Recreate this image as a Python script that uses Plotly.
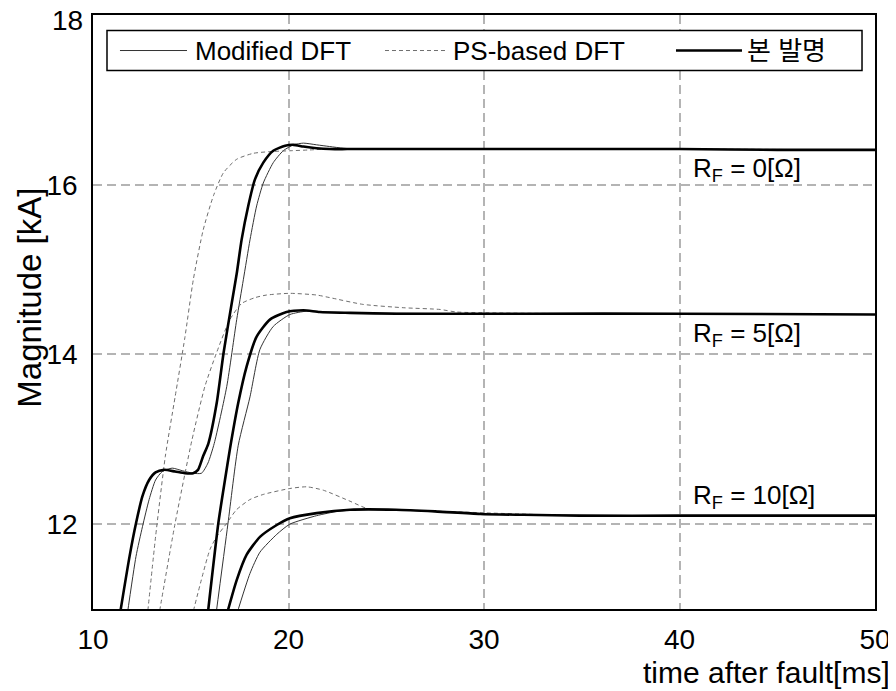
import plotly.graph_objects as go

# time after fault [ms] / magnitude [kA]
# R_F = 0 ohm
t_mod_0 = [11.73, 12.2, 12.53, 12.87, 13.2, 13.54, 14.05, 14.56, 15.12, 15.55, 15.88, 16.2, 16.84, 17.35, 17.69, 18.03, 18.37, 18.71, 19.22, 19.73, 20.26, 20.76, 21.44, 22.1, 22.8, 23.5, 30.0, 40.0, 50.0]
v_mod_0 = [10.9, 11.62, 11.97, 12.29, 12.52, 12.62, 12.66, 12.63, 12.60, 12.60, 12.72, 12.95, 13.62, 14.41, 14.88, 15.35, 15.75, 16.02, 16.26, 16.40, 16.47, 16.49, 16.47, 16.45, 16.43, 16.42, 16.42, 16.42, 16.41]
t_ps_0 = [12.77, 13.2, 13.7, 14.2, 14.7, 15.13, 15.64, 16.16, 16.67, 17.35, 18.2, 19.05, 20.07, 21.1, 22.0, 30.0, 40.0, 50.0]
v_ps_0 = [10.9, 11.85, 12.8, 13.5, 14.2, 14.88, 15.47, 15.87, 16.14, 16.30, 16.37, 16.39, 16.40, 16.41, 16.42, 16.42, 16.42, 16.41]
t_new_0 = [11.35, 11.87, 12.2, 12.53, 12.87, 13.2, 13.63, 14.2, 14.7, 15.12, 15.37, 15.63, 15.9, 16.33, 16.68, 17.1, 17.35, 17.6, 17.94, 18.28, 18.71, 19.22, 19.83, 20.26, 20.76, 21.44, 22.1, 23.0, 25.0, 30.0, 35.0, 40.0, 45.0, 50.0]
v_new_0 = [10.9, 11.62, 12.01, 12.33, 12.52, 12.61, 12.64, 12.62, 12.60, 12.60, 12.64, 12.80, 12.95, 13.43, 14.02, 14.61, 14.95, 15.35, 15.75, 16.06, 16.26, 16.40, 16.46, 16.47, 16.45, 16.43, 16.42, 16.42, 16.42, 16.42, 16.42, 16.42, 16.41, 16.41]

# R_F = 5 ohm
t_mod_5 = [16.27, 16.9, 17.43, 18.03, 18.54, 19.22, 20.07, 20.93, 22.0, 23.5, 30.0, 40.0, 50.0]
v_mod_5 = [10.9, 12.0, 12.93, 13.50, 14.06, 14.33, 14.47, 14.51, 14.50, 14.49, 14.48, 14.48, 14.47]
t_ps_5 = [13.35, 14.2, 15.06, 15.72, 16.32, 17.0, 17.6, 18.3, 18.88, 20.07, 21.44, 22.1, 23.8, 25.9, 27.75, 28.6, 35.0, 50.0]
v_ps_5 = [10.9, 12.01, 12.99, 13.62, 14.02, 14.41, 14.60, 14.67, 14.70, 14.72, 14.70, 14.67, 14.59, 14.55, 14.53, 14.50, 14.48, 14.47]
t_new_5 = [15.85, 16.41, 16.75, 17.0, 17.43, 17.86, 18.37, 19.05, 19.9, 20.76, 21.6, 23.15, 25.5, 28.0, 32.0, 40.0, 50.0]
v_new_5 = [10.9, 12.01, 12.52, 12.88, 13.43, 13.86, 14.21, 14.41, 14.50, 14.52, 14.50, 14.49, 14.48, 14.48, 14.48, 14.48, 14.47]

# R_F = 10 ohm
t_mod_10 = [17.3, 18.03, 18.54, 19.4, 20.07, 21.44, 22.5, 23.5, 25.5, 29.8, 34.9, 50.0]
v_mod_10 = [10.9, 11.42, 11.67, 11.88, 12.0, 12.10, 12.15, 12.17, 12.17, 12.12, 12.10, 12.10]
t_ps_10 = [15.05, 15.98, 16.32, 16.84, 17.34, 18.03, 18.71, 20.07, 20.93, 21.78, 23.15, 24.08, 25.5, 34.9, 50.0]
v_ps_10 = [10.9, 11.70, 11.85, 12.01, 12.17, 12.29, 12.35, 12.42, 12.44, 12.40, 12.27, 12.18, 12.17, 12.10, 12.10]
t_new_10 = [16.8, 17.35, 17.86, 18.54, 19.4, 20.07, 21.44, 23.15, 25.5, 27.5, 29.8, 32.0, 34.9, 40.0, 50.0]
v_new_10 = [10.9, 11.34, 11.64, 11.85, 11.99, 12.07, 12.13, 12.17, 12.17, 12.15, 12.12, 12.11, 12.10, 12.10, 12.10]

x_ticks = [10, 20, 30, 40, 50]
y_ticks = [12, 14, 16, 18]
rf_labels = ['R<sub>F</sub> = 0[Ω]', 'R<sub>F</sub> = 5[Ω]', 'R<sub>F</sub> = 10[Ω]']
rf_label_y = [16.18, 14.23, 12.33]
legend_names = ['Modified DFT', 'PS-based DFT', '본 발명']

FONT = 'Liberation Sans, Arial, Noto Sans CJK KR, sans-serif'

styles = {
    'mod': dict(color='#333333', width=1),
    'ps': dict(color='#6e6e6e', width=1, dash='4px,3px'),
    'new': dict(color='#000000', width=2.6),
}

fig = go.Figure()

curves = [
    ('mod', t_mod_0, v_mod_0), ('mod', t_mod_5, v_mod_5), ('mod', t_mod_10, v_mod_10),
    ('ps', t_ps_0, v_ps_0), ('ps', t_ps_5, v_ps_5), ('ps', t_ps_10, v_ps_10),
    ('new', t_new_0, v_new_0), ('new', t_new_5, v_new_5), ('new', t_new_10, v_new_10),
]
for key, t, v in curves:
    fig.add_trace(go.Scatter(x=t, y=v, mode='lines', line=dict(shape='spline', smoothing=0.6, **styles[key]),
                             showlegend=False, hoverinfo='skip'))

# legend box drawn by hand so the line samples are as long as in the original
fig.add_shape(type='rect', xref='paper', yref='paper', x0=0.0179, x1=0.9834, y0=0.9065, y1=0.9739,
              line=dict(color='black', width=1.5), fillcolor='white', layer='above')
legend_items = [
    ('mod', 0.0345, 0.1202, 0.1279),
    ('ps', 0.3734, 0.4540, 0.4578),
    ('new', 0.7455, 0.8299, 0.8338),
]
for (key, lx0, lx1, tx), name in zip(legend_items, legend_names):
    fig.add_shape(type='line', xref='paper', yref='paper', x0=lx0, x1=lx1, y0=0.9402, y1=0.9402,
                  line=styles[key], layer='above')
    fig.add_annotation(xref='paper', yref='paper', x=tx, y=0.9402, text=name, showarrow=False,
                       xanchor='left', yanchor='middle', font=dict(size=26, color='black'))

for label, ly in zip(rf_labels, rf_label_y):
    fig.add_annotation(x=40.59, y=ly, text=label, showarrow=False, xanchor='left', yanchor='middle',
                       font=dict(size=26, color='black'))

# the top tick label sits a little lower than its grid line, so it is placed by hand
fig.add_annotation(xref='paper', yref='y', x=0, y=y_ticks[-1], text=str(y_ticks[-1]), showarrow=False,
                   xanchor='right', yanchor='middle', xshift=-8, yshift=-5, font=dict(size=28, color='black'))

fig.add_annotation(xref='paper', yref='paper', x=1.022, y=-0.107, text='time after fault[ms]',
                   showarrow=False, xanchor='right', yanchor='middle', font=dict(size=30, color='black'))
fig.add_annotation(xref='paper', yref='paper', x=-0.0806, y=0.524, text='Magnitude [kA]', textangle=-90,
                   showarrow=False, xanchor='center', yanchor='middle', font=dict(size=33, color='black'))

grid = dict(showgrid=True, gridcolor='#b4b4b4', gridwidth=1.5, griddash='9px,5px',
            showline=True, linecolor='black', linewidth=1.5, mirror=True, ticks='', zeroline=False,
            tickfont=dict(size=28, color='black'), automargin=False, ticklabeloverflow='allow')
fig.update_xaxes(range=[10, 50], tickvals=x_ticks, ticklabelstandoff=5, **grid)
fig.update_yaxes(range=[11, 18], tickvals=y_ticks[:-1], ticklabelstandoff=8, **grid)

# the page body has an 8px margin, so the figure is shifted 8px right and down
fig.update_layout(
    width=888,
    height=683,
    margin=dict(l=85, r=21, t=7, b=82, autoexpand=False),
    plot_bgcolor='white',
    paper_bgcolor='white',
    font=dict(family=FONT, color='black'),
    showlegend=False,
)

fig.write_html('out.html')
